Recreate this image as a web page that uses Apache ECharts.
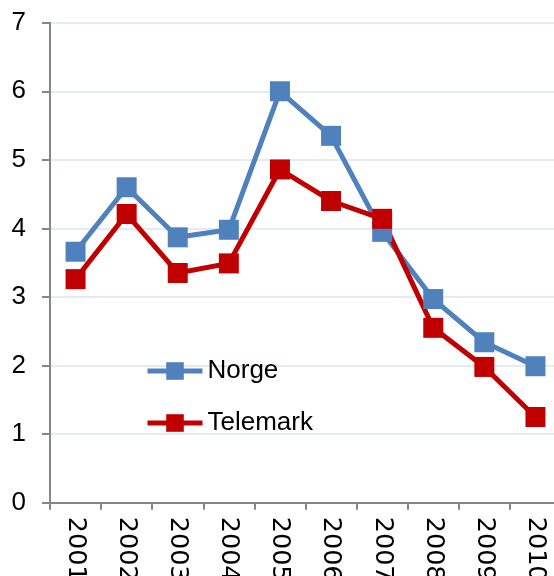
<!DOCTYPE html>
<html>
<head>
<meta charset="utf-8">
<script src="https://cdn.jsdelivr.net/npm/echarts@6/dist/echarts.min.js"></script>
<style>
  html, body { margin: 0; padding: 0; background: #fff; }
  #chart { width: 554px; height: 576px; }
</style>
</head>
<body>
<div id="chart"></div>
<script>
// Years on the category axis
const years = ['2001', '2002', '2003', '2004', '2005', '2006', '2007', '2008', '2009', '2010'];
// Series values per year
const norge = [3.66, 4.60, 3.87, 3.98, 6.00, 5.35, 3.95, 2.97, 2.34, 1.99];
const telemark = [3.26, 4.21, 3.35, 3.49, 4.86, 4.40, 4.14, 2.55, 1.98, 1.25];
// Value-axis range
const yMin = 0, yMax = 7, yStep = 1;

const FONT = '"Liberation Sans", Arial, sans-serif';
const WIDE_FONT = '"DejaVu Sans", sans-serif';

const chart = echarts.init(document.getElementById('chart'), null, { renderer: 'canvas' });

function lineSeries(name, data, color) {
  return {
    name: name,
    type: 'line',
    data: data,
    symbol: 'rect',
    symbolSize: 20,
    showAllSymbol: true,
    lineStyle: { color: color, width: 5 },
    itemStyle: { color: color },
    emphasis: { disabled: true },
    animation: false
  };
}

chart.setOption({
  animation: false,
  // fixed plot box; the year labels run off the bottom edge and are clipped
  grid: { left: 50, top: 22.7, width: 511, bottom: 73.3, containLabel: false, outerBoundsMode: 'none' },
  legend: {
    orient: 'vertical',
    left: 145,
    top: 358,
    padding: 0,
    itemWidth: 55,
    itemHeight: 22,
    itemGap: 26,
    lineStyle: { width: 5 },
    textStyle: { fontFamily: FONT, fontSize: 26, color: '#000' },
    data: ['Norge', 'Telemark']
  },
  xAxis: {
    type: 'category',
    data: years,
    boundaryGap: true,
    axisLine: { lineStyle: { color: '#868686', width: 2 } },
    axisTick: { show: true, alignWithLabel: false, length: 7, lineStyle: { color: '#868686', width: 2 } },
    axisLabel: {
      rotate: -90,
      margin: 14,
      interval: 0,
      hideOverlap: false,
      fontFamily: WIDE_FONT,
      fontSize: 25.5,
      color: '#000'
    },
    splitLine: { show: false }
  },
  yAxis: {
    type: 'value',
    min: yMin,
    max: yMax,
    interval: yStep,
    axisLine: { show: true, lineStyle: { color: '#868686', width: 2 } },
    axisTick: { show: true, length: 8, lineStyle: { color: '#868686', width: 2 } },
    axisLabel: { margin: 24, fontFamily: FONT, fontSize: 26, color: '#000' },
    splitLine: { show: true, lineStyle: { color: '#dce5f1', width: 1.5 } }
  },
  series: [
    lineSeries('Norge', norge, '#4f81bd'),
    lineSeries('Telemark', telemark, '#c00000')
  ]
});
</script>
</body>
</html>
